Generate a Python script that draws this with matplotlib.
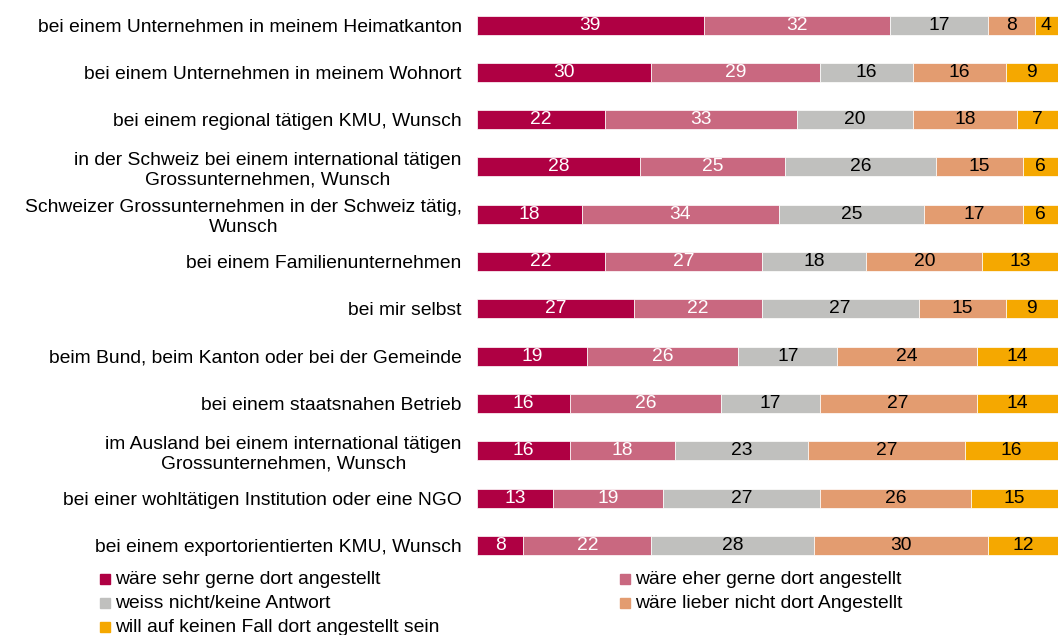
import numpy as np
import matplotlib
matplotlib.use("Agg")
import matplotlib.pyplot as plt
from matplotlib.patches import Rectangle

plt.rcParams['font.family'] = ['Liberation Sans', 'DejaVu Sans']

categories = [
    "bei einem Unternehmen in meinem Heimatkanton",
    "bei einem Unternehmen in meinem Wohnort",
    "bei einem regional tätigen KMU, Wunsch",
    "in der Schweiz bei einem international tätigen\nGrossunternehmen, Wunsch",
    "Schweizer Grossunternehmen in der Schweiz tätig,\nWunsch",
    "bei einem Familienunternehmen",
    "bei mir selbst",
    "beim Bund, beim Kanton oder bei der Gemeinde",
    "bei einem staatsnahen Betrieb",
    "im Ausland bei einem international tätigen\nGrossunternehmen, Wunsch",
    "bei einer wohltätigen Institution oder eine NGO",
    "bei einem exportorientierten KMU, Wunsch",
]

sehr_gerne = [39, 30, 22, 28, 18, 22, 27, 19, 16, 16, 13, 8]
eher_gerne = [32, 29, 33, 25, 34, 27, 22, 26, 26, 18, 19, 22]
weiss_nicht = [17, 16, 20, 26, 25, 18, 27, 17, 17, 23, 27, 28]
lieber_nicht = [8, 16, 18, 15, 17, 20, 15, 24, 27, 27, 26, 30]
keinen_fall = [4, 9, 7, 6, 6, 13, 9, 14, 14, 16, 15, 12]

series = [
    ("wäre sehr gerne dort angestellt", sehr_gerne, "#AF0043", "white"),
    ("wäre eher gerne dort angestellt", eher_gerne, "#C96880", "white"),
    ("weiss nicht/keine Antwort", weiss_nicht, "#C0C0BE", "black"),
    ("wäre lieber nicht dort Angestellt", lieber_nicht, "#E39C70", "black"),
    ("will auf keinen Fall dort angestellt sein", keinen_fall, "#F5A800", "black"),
]

FS = 13.9
W, H = 1059, 635
fig = plt.figure(figsize=(W / 100, H / 100), dpi=100)
ax = fig.add_axes([477 / W, 1 - 569 / H, 581 / W, 567.6 / H])

y = np.arange(len(categories))
left = np.zeros(len(categories))
for name, vals, color, tcol in series:
    vals = np.array(vals, dtype=float)
    bars = ax.barh(y, vals, left=left, height=0.4, color=color,
                   edgecolor="white", linewidth=0.5)
    ax.bar_label(bars, labels=[str(int(v)) for v in vals], label_type="center",
                 color=tcol, fontsize=FS)
    left += vals

ax.set_xlim(0, 100)
ax.set_ylim(len(categories) - 0.5, -0.5)
ax.set_yticks(y)
ax.set_yticklabels(categories, fontsize=FS)
for lab in ax.get_yticklabels():
    lab.set_multialignment("center")
ax.tick_params(axis="y", length=0, pad=11)
ax.set_xticks([])
for s in ax.spines.values():
    s.set_visible(False)

# legend, row-major in two columns
col_x = [100, 620]
row_y = [579, 603, 627]
for i, (name, _, color, _) in enumerate(series):
    cx = col_x[i % 2]
    ry = row_y[i // 2]
    fig.add_artist(Rectangle((cx / W, 1 - (ry + 5) / H), 10 / W, 10 / H,
                             transform=fig.transFigure, color=color))
    fig.text((cx + 15) / W, 1 - ry / H, name, fontsize=FS, va="center", ha="left")

fig.savefig("out.png", dpi=100)
